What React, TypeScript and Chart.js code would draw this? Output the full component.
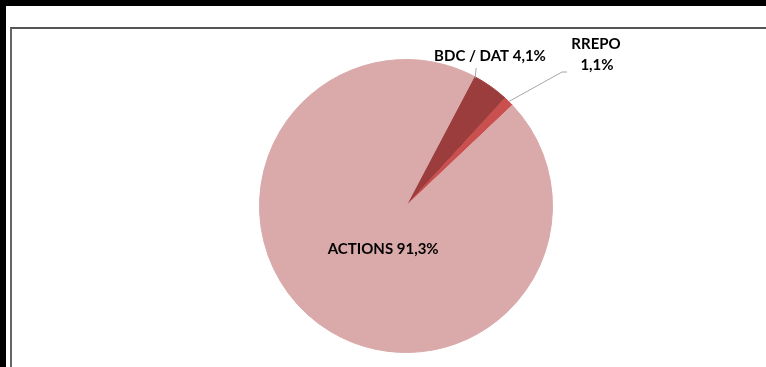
import React, { useEffect, useRef } from "react";
import { Chart, registerables } from "chart.js";

Chart.register(...registerables);

const categories = ["BDC / DAT", "RREPO", "ACTIONS", ""];
const values = [4.1, 1.1, 91.3, 3.5];
const labelTexts = [["BDC / DAT 4,1%"], ["RREPO", "1,1%"], ["ACTIONS 91,3%"], []];
const colors = ["#9B3D3D", "#C9504E", "#DAA9AA", "#DAA9AA"];

const FONT = "bold 15px Lato, 'Open Sans', sans-serif";

const labelPlugin = {
  id: "pieLabels",
  afterDraw(chart: any) {
    const meta = chart.getDatasetMeta(0);
    const ctx = chart.ctx;
    const arcs = meta.data;
    if (!arcs.length) return;
    const cx = arcs[0].x;
    const cy = arcs[0].y;
    const r = arcs[0].outerRadius;
    const pt = (ang: number, rad: number) => ({
      x: cx + Math.cos(ang) * rad,
      y: cy + Math.sin(ang) * rad,
    });
    ctx.save();
    ctx.font = FONT;
    ctx.fillStyle = "#000";
    ctx.textAlign = "center";
    ctx.textBaseline = "middle";

    // BDC / DAT (outside, short leader)
    {
      const a = arcs[0];
      const p = pt(a.startAngle + 0.01, r - 1);
      ctx.strokeStyle = "#A6A6A6";
      ctx.lineWidth = 1;
      ctx.beginPath();
      ctx.moveTo(p.x, p.y);
      ctx.lineTo(p.x + 1, p.y - 10);
      ctx.stroke();
      ctx.fillText(labelTexts[0][0], cx + 84, cy - 150);
    }
    // RREPO (outside, elbow leader)
    {
      const a = arcs[1];
      const mid = (a.startAngle + a.endAngle) / 2;
      const p = pt(mid, r);
      ctx.strokeStyle = "#A6A6A6";
      ctx.lineWidth = 1;
      ctx.beginPath();
      ctx.moveTo(p.x, p.y);
      ctx.lineTo(cx + 156, cy - 134);
      ctx.lineTo(cx + 161, cy - 134);
      ctx.stroke();
      ctx.fillText(labelTexts[1][0], cx + 190, cy - 162);
      ctx.fillText(labelTexts[1][1], cx + 191, cy - 141);
    }
    // ACTIONS (inside)
    {
      const a = arcs[2];
      const mid = (a.startAngle + a.endAngle) / 2;
      const p = pt(mid, r * 0.33);
      ctx.fillText(labelTexts[2][0], p.x + 2, p.y + 2);
    }
    ctx.restore();
  },
};

export default function App() {
  const ref = useRef<HTMLCanvasElement | null>(null);
  useEffect(() => {
    document.body.style.margin = "0";
    const chart = new Chart(ref.current!, {
      type: "pie",
      data: {
        labels: categories,
        datasets: [
          {
            data: values,
            backgroundColor: colors,
            borderColor: colors,
            borderWidth: 1,
          },
        ],
      },
      options: {
        animation: false,
        responsive: false,
        rotation: 27.8,
        layout: { padding: { top: 59, bottom: 14, left: 259, right: 213 } },
        plugins: {
          legend: { display: false },
          tooltip: { enabled: false },
        },
      },
      plugins: [labelPlugin],
    });
    return () => chart.destroy();
  }, []);

  return (
    <div style={{ position: "relative", width: 766, height: 367, background: "#fff", overflow: "hidden" }}>
      <div style={{ position: "absolute", left: 0, top: 0, width: 766, height: 6, background: "#000" }} />
      <div style={{ position: "absolute", left: 0, top: 0, width: 6, height: 367, background: "#000" }} />
      <div
        style={{
          position: "absolute",
          left: 10,
          top: 27,
          width: 780,
          height: 360,
          borderLeft: "2px solid #666",
          borderTop: "2px solid #555",
        }}
      />
      <canvas ref={ref} width={766} height={367} style={{ position: "absolute", left: 0, top: 0 }} />
    </div>
  );
}
